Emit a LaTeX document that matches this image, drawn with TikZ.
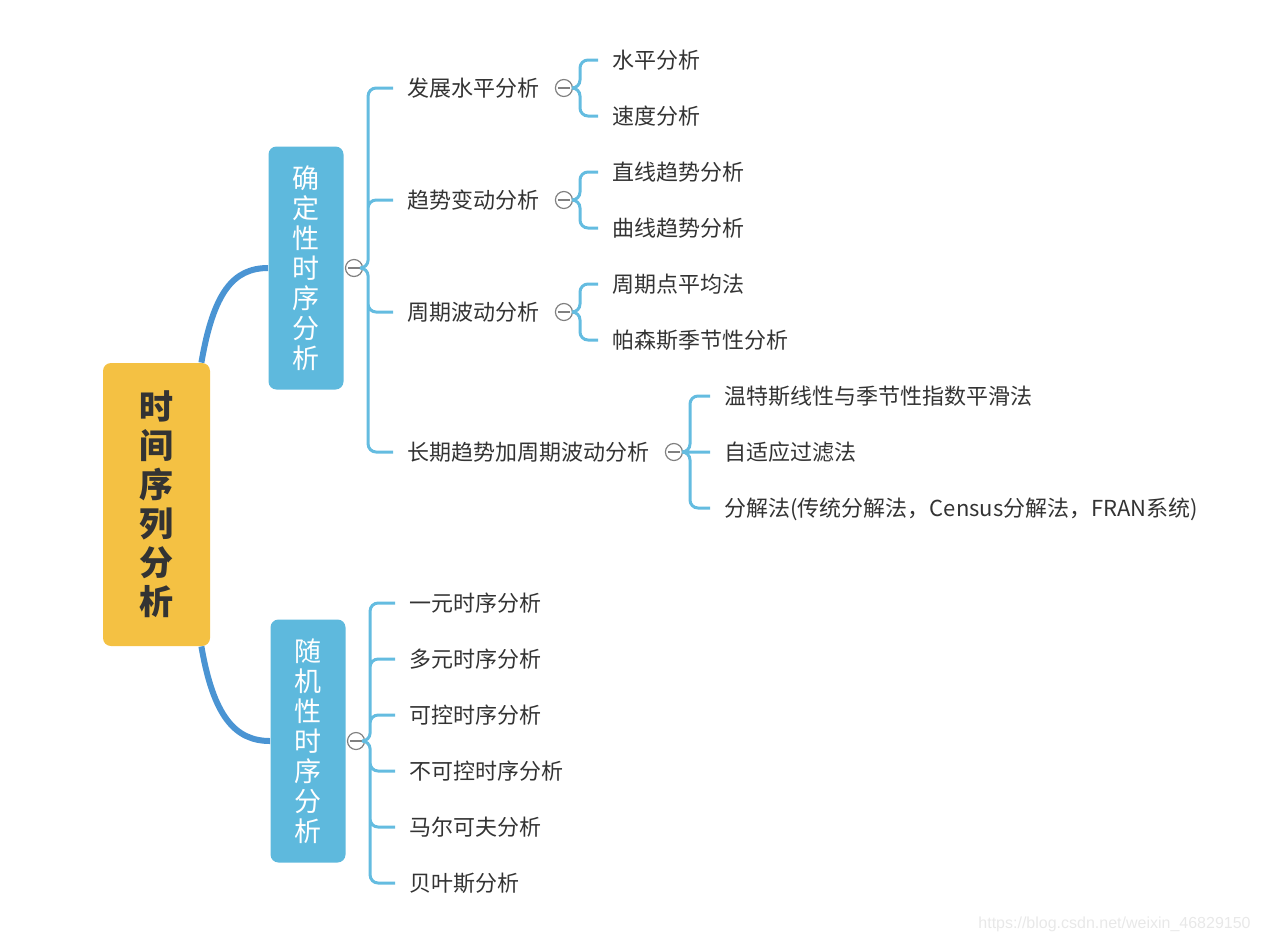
\documentclass[tikz,border=0pt]{standalone}
\usepackage{fontspec}
\setmainfont{Noto Sans CJK SC}
\newfontfamily\urlfont{Liberation Sans}
\usetikzlibrary{positioning}
\definecolor{rootyellow}{HTML}{F4C143}
\definecolor{branchblue}{HTML}{5EB9DD}
\definecolor{trunkblue}{HTML}{4A94D3}
\definecolor{twigblue}{HTML}{64BCE0}
\definecolor{inkgrey}{HTML}{333333}
\tikzset{
  topic/.style={rounded corners=4pt, align=center, inner sep=0pt},
  root/.style={topic, fill=rootyellow, text=inkgrey, minimum width=53.5pt, minimum height=141.5pt,
    font=\fontsize{17}{19.5}\selectfont\bfseries},
  branch/.style={topic, fill=branchblue, text=white, minimum width=37.5pt, minimum height=121.5pt,
    font=\fontsize{13.5}{15}\selectfont},
  leaf/.style={anchor=west, inner sep=0pt, text height=9.5pt, text depth=1.5pt, text=inkgrey,
    font=\fontsize{11}{13}\selectfont},
  fold/.style={circle, draw=gray, fill=white, line width=0.6pt, minimum size=8.5pt, inner sep=0pt,
    path picture={\draw[gray, line width=0.6pt] ([xshift=-3pt]path picture bounding box.center)
      -- ([xshift=3pt]path picture bounding box.center);}},
  trunk/.style={draw=trunkblue, line width=3pt},
  twig/.style={draw=twigblue, line width=1.5pt, rounded corners=4pt},
}
\begin{document}
\begin{tikzpicture}[x=0.5pt, y=-0.5pt]
    \useasboundingbox (0,0) rectangle (1261,943);
    % main topic and the two branches
    \node[root] (tsa) at (156.5,504.5) {时\\间\\序\\列\\分\\析};
    \node[branch] (det) at (306,268) {确\\定\\性\\时\\序\\分\\析};
    \node[branch] (rnd) at (308,741) {随\\机\\性\\时\\序\\分\\析};
    \draw[trunk] ([xshift=-4.5pt]tsa.north east) .. controls +(12,-70) and +(-35,0) .. (det.west);
    \draw[trunk] ([xshift=-4.5pt]tsa.south east) .. controls +(12,70) and +(-35,0) .. (rnd.west);

    % deterministic analysis
    \node[leaf] (dev) at (407,88) {发展水平分析};
    \node[leaf] (trend) at (407,200) {趋势变动分析};
    \node[leaf] (cyc) at (407,312) {周期波动分析};
    \node[leaf] (long) at (407,452) {长期趋势加周期波动分析};
    \node[leaf] (lvl) at (612,60) {水平分析};
    \node[leaf] (spd) at (612,116) {速度分析};
    \node[leaf] (lin) at (612,172) {直线趋势分析};
    \node[leaf] (cur) at (612,228) {曲线趋势分析};
    \node[leaf] (pav) at (612,284) {周期点平均法};
    \node[leaf] (pars) at (612,340) {帕森斯季节性分析};
    \node[leaf] (wint) at (724,396) {温特斯线性与季节性指数平滑法};
    \node[leaf] (adap) at (724,452) {自适应过滤法};
    \node[leaf] (deco) at (724,508) {分解法(传统分解法，Census分解法，FRAN系统)};

    % random analysis
    \node[leaf] (uni) at (409,603) {一元时序分析};
    \node[leaf] (multi) at (409,659) {多元时序分析};
    \node[leaf] (ctrl) at (409,715) {可控时序分析};
    \node[leaf] (unctrl) at (409,771) {不可控时序分析};
    \node[leaf] (markov) at (409,827) {马尔可夫分析};
    \node[leaf] (bayes) at (409,883) {贝叶斯分析};

    \node[fold, right=0.5pt of det] (fdet) {};
    \node[fold, right=0.5pt of rnd] (frnd) {};
    \node[fold, right=7.5pt of dev] (fdev) {};
    \node[fold, right=7.5pt of trend] (ftrend) {};
    \node[fold, right=7.5pt of cyc] (fcyc) {};
    \node[fold, right=7.5pt of long] (flong) {};

    \draw[twig] (fdet.east) -- ++(5,0) |- ([xshift=-7pt]dev.west)
                (fdet.east) -- ++(5,0) |- ([xshift=-7pt]trend.west)
                (fdet.east) -- ++(5,0) |- ([xshift=-7pt]cyc.west)
                (fdet.east) -- ++(5,0) |- ([xshift=-7pt]long.west);
    \draw[twig] (fdev.east) -- ++(7,0) |- ([xshift=-7pt]lvl.west)
                (fdev.east) -- ++(7,0) |- ([xshift=-7pt]spd.west);
    \draw[twig] (ftrend.east) -- ++(7,0) |- ([xshift=-7pt]lin.west)
                (ftrend.east) -- ++(7,0) |- ([xshift=-7pt]cur.west);
    \draw[twig] (fcyc.east) -- ++(7,0) |- ([xshift=-7pt]pav.west)
                (fcyc.east) -- ++(7,0) |- ([xshift=-7pt]pars.west);
    \draw[twig] (flong.east) -- ++(7,0) |- ([xshift=-7pt]wint.west)
                (flong.east) -- ([xshift=-7pt]adap.west)
                (flong.east) -- ++(7,0) |- ([xshift=-7pt]deco.west);
    \draw[twig] (frnd.east) -- ++(5,0) |- ([xshift=-7pt]uni.west)
                (frnd.east) -- ++(5,0) |- ([xshift=-7pt]multi.west)
                (frnd.east) -- ++(5,0) |- ([xshift=-7pt]ctrl.west)
                (frnd.east) -- ++(5,0) |- ([xshift=-7pt]unctrl.west)
                (frnd.east) -- ++(5,0) |- ([xshift=-7pt]markov.west)
                (frnd.east) -- ++(5,0) |- ([xshift=-7pt]bayes.west);

    \node[anchor=east, inner sep=0pt, text=black!9, font=\urlfont\fontsize{8}{10}\selectfont] (wm)
        at (1251,924) {https://blog.csdn.net/weixin\_46829150};
\end{tikzpicture}
\end{document}
